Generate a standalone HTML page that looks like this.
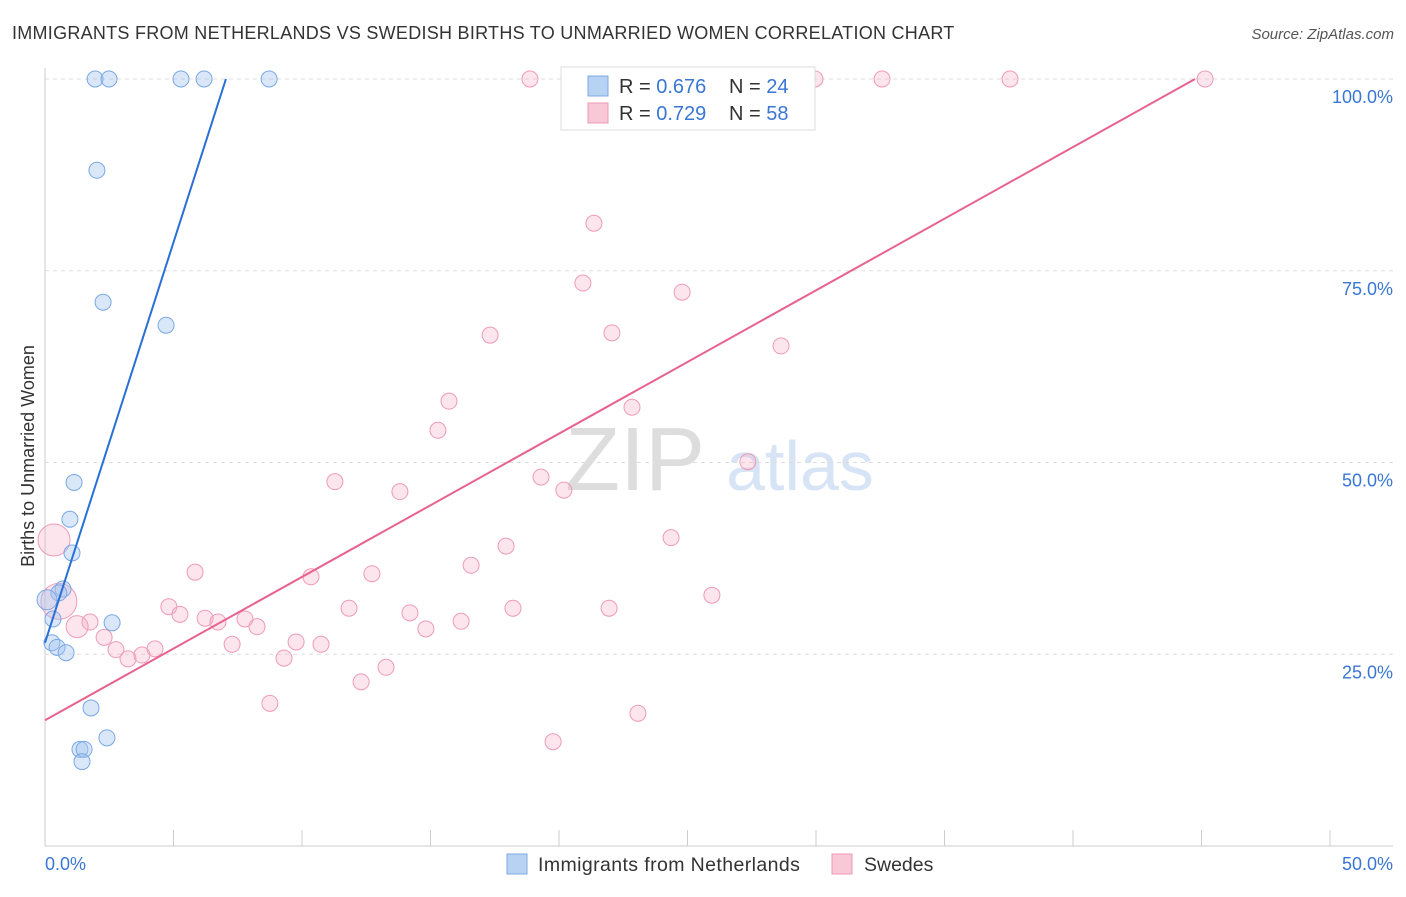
<!DOCTYPE html>
<html><head><meta charset="utf-8"><style>
body{margin:0;background:#fff;font-family:"Liberation Sans",sans-serif}
svg text{font-family:"Liberation Sans",sans-serif}
</style></head><body>
<svg id="c" width="1406" height="892" xmlns="http://www.w3.org/2000/svg">
<text x="12" y="39" font-size="18" fill="#333" letter-spacing="0.27">IMMIGRANTS FROM NETHERLANDS VS SWEDISH BIRTHS TO UNMARRIED WOMEN CORRELATION CHART</text>
<text x="1394" y="39" font-size="15" fill="#555" text-anchor="end" font-style="italic">Source: ZipAtlas.com</text>
<text x="34" y="456" font-size="18" fill="#333" text-anchor="middle" transform="rotate(-90 34 456)">Births to Unmarried Women</text>
<g><text x="635" y="490" font-size="90" fill="#ddd" text-anchor="middle" font-family="Liberation Serif,serif">ZIP</text><text x="800" y="490" font-size="70" fill="#d6e4f6" text-anchor="middle">atlas</text></g>
<g id="grid"></g><g id="axes"></g><g id="pts"></g><g id="lines"></g>
<g>
<rect x="561" y="67" width="254" height="63" fill="#fff" stroke="#ddd"/>
<rect x="588" y="76" width="20" height="20" fill="#b8d2f3" stroke="#7ea8e0"/>
<rect x="588" y="103" width="20" height="20" fill="#f8c8d7" stroke="#ec9ab4"/>
<text x="619" y="93" font-size="20" fill="#333">R = <tspan fill="#3a76d4">0.676</tspan></text>
<text x="729" y="93" font-size="20" fill="#333">N = <tspan fill="#3a76d4">24</tspan></text>
<text x="619" y="120" font-size="20" fill="#333">R = <tspan fill="#3a76d4">0.729</tspan></text>
<text x="729" y="120" font-size="20" fill="#333">N = <tspan fill="#3a76d4">58</tspan></text>
</g>
<g>
<rect x="507" y="854" width="20" height="20" fill="#b8d2f3" stroke="#7ea8e0"/>
<text x="538" y="871" font-size="19.5" letter-spacing="0.4" fill="#333">Immigrants from Netherlands</text>
<rect x="832" y="854" width="20" height="20" fill="#f8c8d7" stroke="#ec9ab4"/>
<text x="864" y="871" font-size="19.5" fill="#333">Swedes</text>
</g>
<text x="45" y="870" font-size="18" fill="#3a76d4">0.0%</text>
<text x="1393" y="870" font-size="18" fill="#3a76d4" text-anchor="end">50.0%</text>
</svg>
<script>
const yTicks=[25,50,75,100];
const yTickLabels=["25.0%","50.0%","75.0%","100.0%"];
const blueX=[1.95,2.49,5.29,6.19,8.72,2.02,2.26,4.71,1.13,0.97,1.05,0.70,0.54,0.08,0.31,0.27,0.47,0.82,2.61,1.79,2.41,1.36,1.52,1.44];
const blueY=[100,100,100,100,100,88.1,70.9,67.9,47.4,42.6,38.2,33.5,33.0,32.1,29.6,26.5,25.9,25.2,29.1,18.0,14.1,12.6,12.6,11.0];
const blueR=[8,8,8,8,8,8,8,8,8,8,8,8,8,10,8,8,8,8,8,8,8,8,8,8];
const pinkX=[18.87,28.68,29.96,32.57,37.55,45.14,21.36,20.93,24.79,17.32,22.06,28.64,15.72,22.84,15.29,27.35,11.28,19.30,20.19,13.81,17.94,24.36,0.35,5.84,10.35,12.72,16.58,25.95,0.54,4.82,5.25,11.83,14.20,18.21,21.95,6.23,6.73,7.78,8.25,14.82,16.19,1.75,1.25,2.30,2.76,3.23,3.77,4.28,7.28,9.77,10.74,9.30,13.27,12.30,8.75,23.07,19.77];
const pinkY=[100,100,100,100,100,100,81.2,73.4,72.2,66.6,66.9,65.2,58.0,57.2,54.2,50.1,47.5,48.1,46.4,46.2,39.1,40.2,39.9,35.7,35.1,35.5,36.6,32.7,31.9,31.2,30.2,31.0,30.4,31.0,31.0,29.7,29.2,29.6,28.6,28.3,29.3,29.2,28.6,27.2,25.6,24.4,24.9,25.7,26.3,26.6,26.3,24.5,23.3,21.4,18.6,17.3,13.6];
const blueLine=[[0,26.5],[7.04,100]];
const pinkLine=[[0,16.4],[44.75,100]];
const X=v=>45+v*25.7, Y=v=>846-v*7.67;
const NS="http://www.w3.org/2000/svg";
function mk(t,a,p){const e=document.createElementNS(NS,t);for(const k in a)e.setAttribute(k,a[k]);document.getElementById(p).appendChild(e);return e;}
yTicks.forEach((t,i)=>{
 const l=mk('line',{x1:45,x2:1393,y1:Y(t),y2:Y(t),stroke:'#ddd','stroke-dasharray':'4,4'},'grid');
 
 
 const tx=mk('text',{x:1393,y:Y(t)+24,'font-size':18,fill:'#3a76d4','text-anchor':'end'},'grid');
 tx.textContent=yTickLabels[i];
 
 
});
let a=mk('line',{x1:45,x2:45,y1:68,y2:846,stroke:'#ccc'},'axes');


a=mk('line',{x1:45,x2:1393,y1:846,y2:846,stroke:'#ccc'},'axes');


for(let i=0;i<=10;i++){const t=mk('line',{x1:X(i*5),x2:X(i*5),y1:830,y2:846,stroke:'#ccc'},'axes');
 
 }
pinkX.forEach((x,i)=>{const r=i==22?16:(i==28?18:(i==42?11:8));
 const c=mk('circle',{cx:X(x),cy:Y(pinkY[i]),r:r,fill:'rgba(245,170,195,0.3)',stroke:'#ee9cb6','stroke-width':1},'pts');
 
 });
blueX.forEach((x,i)=>{
 const c=mk('circle',{cx:X(x),cy:Y(blueY[i]),r:blueR[i],fill:'rgba(160,195,240,0.4)',stroke:'#7aa8e4','stroke-width':1},'pts');
 
 });
let l=mk('line',{x1:X(blueLine[0][0]),y1:Y(blueLine[0][1]),x2:X(blueLine[1][0]),y2:Y(blueLine[1][1]),stroke:'#2a6fd6','stroke-width':2},'lines');


l=mk('line',{x1:X(pinkLine[0][0]),y1:Y(pinkLine[0][1]),x2:X(pinkLine[1][0]),y2:Y(pinkLine[1][1]),stroke:'#e8628f','stroke-width':2},'lines');


</script>
</body></html>
